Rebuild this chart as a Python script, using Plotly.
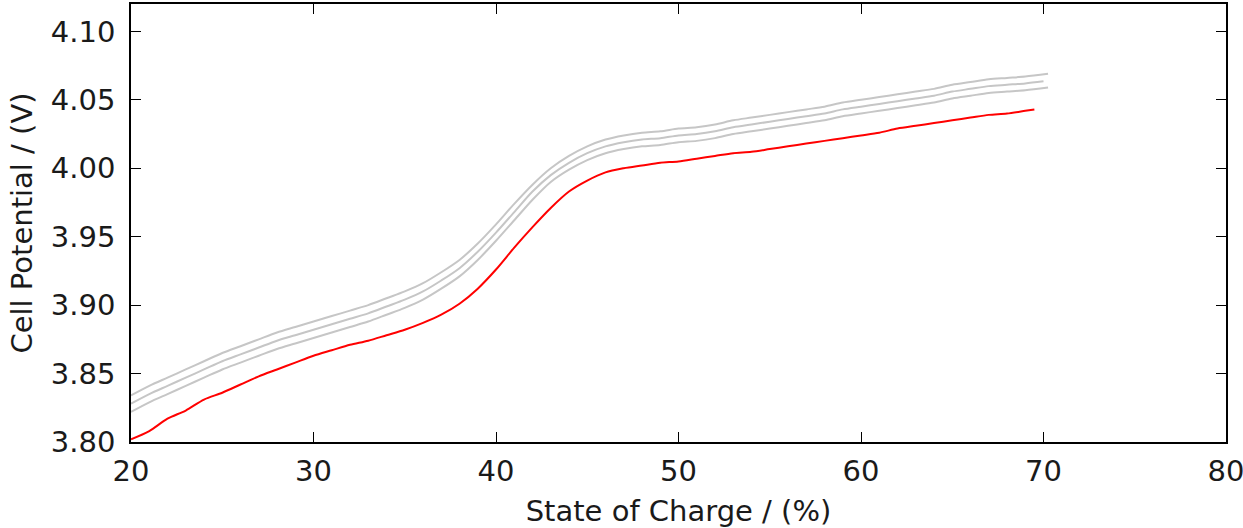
import plotly.graph_objects as go

# State of charge (%) sample points
soc_red = [20, 21, 22, 23, 24, 25, 26, 27, 28, 29, 30, 31, 32, 33, 34, 35, 36, 37, 38, 39,
           40, 41, 42, 43, 44, 45, 46, 47, 48, 49, 50, 51, 52, 53, 54, 55, 56, 57, 58, 59,
           60, 61, 62, 63, 64, 65, 66, 67, 68, 69, 69.5]
v_red = [3.802, 3.808, 3.817, 3.823, 3.831, 3.836, 3.842, 3.848, 3.853, 3.858, 3.863, 3.867,
         3.871, 3.874, 3.878, 3.882, 3.887, 3.893, 3.901, 3.912, 3.926, 3.942, 3.957, 3.971,
         3.983, 3.991, 3.997, 4.000, 4.002, 4.004, 4.005, 4.007, 4.009, 4.011, 4.012, 4.014,
         4.016, 4.018, 4.020, 4.022, 4.024, 4.026, 4.029, 4.031, 4.033, 4.035, 4.037, 4.039,
         4.040, 4.042, 4.043]

soc_gray = [20, 21, 22, 23, 24, 25, 26, 27, 28, 29, 30, 31, 32, 33, 34, 35, 36, 37, 38, 39,
            40, 41, 42, 43, 44, 45, 46, 47, 48, 49, 50, 51, 52, 53, 54, 55, 56, 57, 58, 59,
            60, 61, 62, 63, 64, 65, 66, 67, 68, 69, 70.25]
soc_gray_mid = soc_gray[:-1] + [70.0]

v_gray_top = [3.834, 3.841, 3.847, 3.853, 3.859, 3.865, 3.870, 3.875, 3.880, 3.884, 3.888,
              3.892, 3.896, 3.900, 3.905, 3.910, 3.916, 3.924, 3.933, 3.945, 3.959, 3.974,
              3.988, 4.000, 4.009, 4.016, 4.021, 4.024, 4.026, 4.027, 4.029, 4.030, 4.032,
              4.035, 4.037, 4.039, 4.041, 4.043, 4.045, 4.048, 4.050, 4.052, 4.054, 4.056,
              4.058, 4.061, 4.063, 4.065, 4.066, 4.067, 4.069]
v_gray_mid = [3.828, 3.835, 3.841, 3.847, 3.853, 3.859, 3.864, 3.869, 3.874, 3.878, 3.882,
              3.886, 3.890, 3.894, 3.899, 3.904, 3.910, 3.918, 3.927, 3.939, 3.953, 3.968,
              3.983, 3.995, 4.004, 4.011, 4.016, 4.019, 4.021, 4.022, 4.024, 4.025, 4.027,
              4.030, 4.032, 4.034, 4.036, 4.038, 4.040, 4.043, 4.045, 4.047, 4.049, 4.051,
              4.053, 4.056, 4.058, 4.060, 4.061, 4.062, 4.0635]
v_gray_bot = [3.822, 3.829, 3.835, 3.841, 3.847, 3.853, 3.858, 3.863, 3.868, 3.872, 3.876,
              3.880, 3.884, 3.888, 3.893, 3.898, 3.904, 3.912, 3.921, 3.933, 3.947, 3.962,
              3.977, 3.990, 3.999, 4.006, 4.011, 4.014, 4.016, 4.017, 4.019, 4.020, 4.022,
              4.025, 4.027, 4.029, 4.031, 4.033, 4.035, 4.038, 4.040, 4.042, 4.044, 4.046,
              4.048, 4.051, 4.053, 4.055, 4.056, 4.057, 4.059]

x_ticks = [20, 30, 40, 50, 60, 70, 80]
y_ticks = [3.80, 3.85, 3.90, 3.95, 4.00, 4.05, 4.10]

gray = "#c6c6c6"
fig = go.Figure()
for xs, ys in [(soc_gray, v_gray_top), (soc_gray_mid, v_gray_mid), (soc_gray, v_gray_bot)]:
    fig.add_trace(go.Scatter(x=xs, y=ys, mode="lines", line=dict(color=gray, width=2, shape="spline", smoothing=0.8),
                             showlegend=False, hoverinfo="skip"))
fig.add_trace(go.Scatter(x=soc_red, y=v_red, mode="lines", line=dict(color="#ff0000", width=2, shape="spline", smoothing=0.8),
                         showlegend=False))

font_family = "DejaVu Sans"
axis_common = dict(
    showgrid=False, zeroline=False, showline=True, linecolor="#000000", linewidth=1.5, mirror="ticks",
    ticks="inside", ticklen=10, tickwidth=1.2, tickcolor="#000000",
    tickfont=dict(family=font_family, size=29, color="#1a1a1a"),
    automargin=False, ticklabeloverflow="allow",
)
fig.update_layout(
    width=1243, height=528,
    margin=dict(l=131, r=17, t=4, b=86),
    paper_bgcolor="white", plot_bgcolor="white",
    font=dict(family=font_family, color="#1a1a1a"),
    xaxis=dict(range=[20, 80], tickvals=x_ticks, ticktext=[str(v) for v in x_ticks],
               ticklabelstandoff=2,
               title=dict(text="State of Charge / (%)", font=dict(family=font_family, size=29), standoff=14),
               **axis_common),
    yaxis=dict(range=[3.80, 4.12], tickvals=y_ticks, ticktext=[f"{v:.2f}" for v in y_ticks],
               ticklabelstandoff=8,
               title=dict(text="Cell Potential / (V)", font=dict(family=font_family, size=29), standoff=10),
               **axis_common),
)
fig.write_html("out.html", config={"displayModeBar": False},
               post_script="document.body.style.margin='0px';")
